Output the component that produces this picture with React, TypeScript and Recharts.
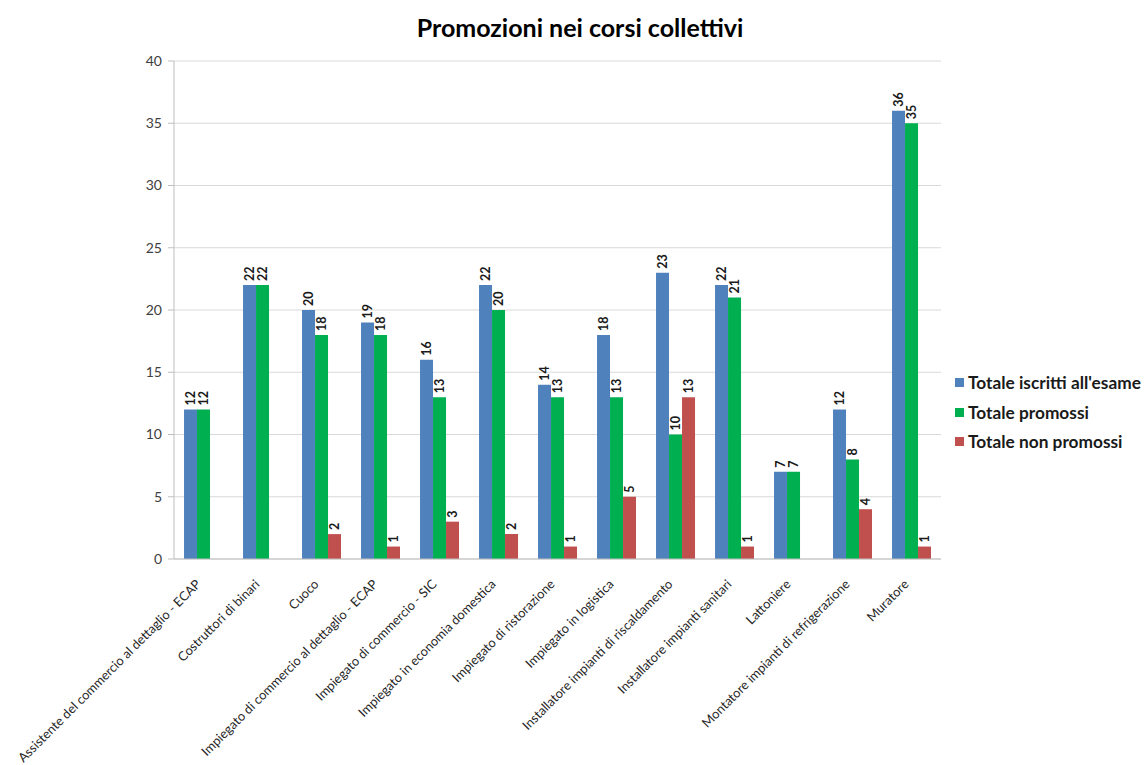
import React from "react";
import { BarChart, Bar, XAxis, YAxis, CartesianGrid, LabelList } from "recharts";

const categories = [
  "Assistente del commercio al dettaglio - ECAP",
  "Costruttori di binari",
  "Cuoco",
  "Impiegato di commercio al dettaglio - ECAP",
  "Impiegato di commercio - SIC",
  "Impiegato in economia domestica",
  "Impiegato di ristorazione",
  "Impiegato in logistica",
  "Installatore impianti di riscaldamento",
  "Installatore impianti sanitari",
  "Lattoniere",
  "Montatore impianti di refrigerazione",
  "Muratore",
];
const iscritti = [12, 22, 20, 19, 16, 22, 14, 18, 23, 22, 7, 12, 36];
const promossi = [12, 22, 18, 18, 13, 20, 13, 13, 10, 21, 7, 8, 35];
const nonPromossi: (number | null)[] = [null, null, 2, 1, 3, 2, 1, 5, 13, 1, null, 4, 1];
const yTicks = [0, 5, 10, 15, 20, 25, 30, 35, 40];

const seriesNames = ["Totale iscritti all'esame", "Totale promossi", "Totale non promossi"];
const colors = ["#4F81BD", "#00B050", "#C0504D"];

const data = categories.map((c, i) => ({
  name: c,
  iscritti: iscritti[i],
  promossi: promossi[i],
  nonPromossi: nonPromossi[i],
}));

const FONT = "Lato, 'Open Sans', sans-serif";

const renderLabel = (props: any) => {
  const { x, y, width, value } = props;
  if (value === null || value === undefined) return null;
  const cx = Number(x) + Number(width) / 2;
  const ty = Number(y) - 4;
  return (
    <text
      x={cx}
      y={ty}
      transform={`rotate(-90 ${cx} ${ty})`}
      textAnchor="start"
      dominantBaseline="central"
      fontSize={12.5}
      fontWeight="bold"
      fill="#1a1a1a"
      fontFamily={FONT}
    >
      {value}
    </text>
  );
};

const XTick = (props: any) => {
  const { x, y, payload } = props;
  const tx = x - 2;
  const ty = y + 18;
  return (
    <text
      x={tx}
      y={ty}
      transform={`rotate(-45 ${tx} ${ty})`}
      textAnchor="end"
      fontSize={12.8}
      fill="#262626"
      fontFamily={FONT}
    >
      {payload.value}
    </text>
  );
};

export default function App() {
  return (
    <div style={{ position: "absolute", left: 0, top: 0, width: 1144, height: 765, background: "#fff", fontFamily: FONT }}>
      <div
        style={{
          position: "absolute",
          left: 330,
          width: 500,
          top: 12,
          textAlign: "center",
          fontSize: 25,
          fontWeight: "bold",
          color: "#000",
        }}
      >
        Promozioni nei corsi collettivi
      </div>
      <BarChart
        width={1144}
        height={765}
        data={data}
        margin={{ top: 61, right: 203, left: 134, bottom: 0 }}
        barCategoryGap="17%"
        barGap={0}
      >
        <CartesianGrid vertical={false} stroke="#d9d9d9" />
        <XAxis
          dataKey="name"
          interval={0}
          height={206}
          tick={<XTick />}
          tickLine={false}
          axisLine={{ stroke: "#bfbfbf" }}
        />
        <YAxis
          domain={[0, 40]}
          ticks={yTicks}
          width={40}
          tick={{ fontSize: 14, fill: "#404040", fontFamily: FONT }}
          tickLine={{ stroke: "#bfbfbf" }}
          tickSize={6}
          tickMargin={6}
          axisLine={{ stroke: "#bfbfbf" }}
        />
        <Bar dataKey="iscritti" fill={colors[0]} isAnimationActive={false}>
          <LabelList dataKey="iscritti" content={renderLabel} />
        </Bar>
        <Bar dataKey="promossi" fill={colors[1]} isAnimationActive={false}>
          <LabelList dataKey="promossi" content={renderLabel} />
        </Bar>
        <Bar dataKey="nonPromossi" fill={colors[2]} isAnimationActive={false}>
          <LabelList dataKey="nonPromossi" content={renderLabel} />
        </Bar>
      </BarChart>
      <div style={{ position: "absolute", left: 955, top: 368 }}>
        {seriesNames.map((n, i) => (
          <div key={n} style={{ display: "flex", alignItems: "center", height: 29.5 }}>
            <span style={{ display: "inline-block", width: 9, height: 9, background: colors[i], marginRight: 4 }} />
            <span style={{ fontSize: 17.3, fontWeight: "bold", color: "#1a1a1a", whiteSpace: "nowrap" }}>{n}</span>
          </div>
        ))}
      </div>
    </div>
  );
}
